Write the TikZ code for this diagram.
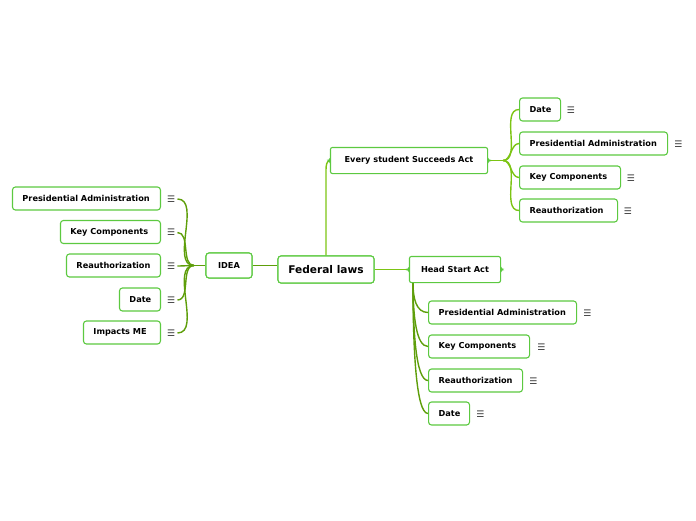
\documentclass[tikz,border=0pt]{standalone}
\usepackage{fontspec}
\setmainfont{DejaVu Sans}
\usetikzlibrary{calc}
\definecolor{boxg}{HTML}{5CC940}
\definecolor{lineg}{HTML}{7CC414}
\definecolor{lined}{HTML}{5E9E0A}
\tikzset{
  box/.style={draw=boxg, line width=1.1pt, rounded corners=3pt, fill=white, minimum height=23pt, inner xsep=10pt, font=\fontsize{8.2}{9.5}\selectfont\bfseries},
  bbox/.style={box, draw=none},
  menuicon/.style={font=\fontsize{9}{10}\selectfont, text=black!80, inner sep=0pt},
  conn/.style={draw=lineg, line width=1.4pt},
  connd/.style={draw=lined, line width=1.4pt},
}
\newcommand{\lb}[2]{\makebox[#1pt][l]{#2}}
\newcommand{\bracebox}[1]{%
  \draw[draw=boxg, line width=1.1pt, rounded corners=2pt]
   (#1.north west) -- (#1.north east) -- ($(#1.east)+(0,2.5)$) -- ($(#1.east)+(2,0)$) -- ($(#1.east)+(0,-2.5)$)
   -- (#1.south east) -- (#1.south west) -- ($(#1.west)+(0,-2.5)$) -- ($(#1.west)+(-2,0)$) -- ($(#1.west)+(0,2.5)$) -- cycle;}
\begin{document}
\begin{tikzpicture}[x=1pt,y=-1pt]
\useasboundingbox (0,0) rectangle (696,520);
% central
\node[box, minimum width=96pt, minimum height=27pt, font=\fontsize{10.6}{12}\selectfont\bfseries] (fl) at (326,269.5) {Federal laws};
% main branches
\node[bbox, minimum width=156pt, minimum height=25pt] (essa) at (409,160.5) {Every student Succeeds Act};
\node[bbox, minimum width=90pt, minimum height=25pt] (hsa) at (455,269.5) {Head Start Act};
\node[box, minimum width=46pt, minimum height=25pt] (idea) at (229,265.5) {IDEA};
% ESSA children
\node[box, anchor=west] (e1) at (519,109.5) {\lb{21}{Date}};
\node[box, anchor=west] (e2) at (519,143.5) {\lb{128}{Presidential Administration}};
\node[box, anchor=west] (e3) at (519,177.5) {\lb{81}{Key Components}};
\node[box, anchor=west] (e4) at (519,210.5) {\lb{78}{Reauthorization}};
% HSA children
\node[box, anchor=west] (h1) at (428,312.5) {\lb{128}{Presidential Administration}};
\node[box, anchor=west] (h2) at (428,346.5) {\lb{81}{Key Components}};
\node[box, anchor=west] (h3) at (428,380.5) {\lb{74}{Reauthorization}};
\node[box, anchor=west] (h4) at (428,413.5) {\lb{21}{Date}};
% IDEA children
\node[box, anchor=east] (i1) at (161,198.5) {\lb{128}{Presidential Administration}};
\node[box, anchor=east] (i2) at (161,232) {\lb{80}{Key Components}};
\node[box, anchor=east] (i3) at (161,265.5) {\lb{74}{Reauthorization}};
\node[box, anchor=east] (i4) at (161,299.5) {\lb{21}{Date}};
\node[box, anchor=east] (i5) at (161,332.5) {\lb{57}{Impacts ME}};
% icons
\foreach \n/\dx in {e1/5.5,e2/6,e3/5.5,e4/5.5,h1/6,h2/7,h3/6,h4/6}{
  \node[menuicon, anchor=west] (\n m) at ($(\n.east)+(\dx,0.5)$) {☰};
}
\foreach \n in {i1,i2,i3,i4,i5}{
  \node[menuicon, anchor=west] (\n m) at ($(\n.east)+(6,0.5)$) {☰};
}
% connectors
\coordinate (je) at (503,160.5);
\coordinate (ji) at (194,265.5);
\coordinate (jh) at (413,283);
\draw[conn] (fl.east) -- (hsa.west);
\draw[connd] (fl.west |- idea.east) -- (idea.east);
\draw[conn] (fl.north) -- (326,170) to[out=90,in=180] (essa.west);
\draw[conn] (essa.east) -- (je);
\foreach \c in {e1,e2,e3,e4}{
  \draw[conn] (je) to[out=0,in=180,looseness=0.9] (\c.west);
}
\draw[connd] (idea.west) -- (ji);
\foreach \c in {i1,i2,i3,i4,i5}{
  \draw[connd] (ji) to[out=180,in=0,looseness=0.9] ($(\c m.east)+(2,0)$);
}
\foreach \c/\yy/\ym in {h1/312.5/298,h2/346.5/315,h3/380.5/332,h4/413.5/348}{
  \draw[connd] (jh) .. controls (413,\ym) and (416,\yy) .. (\c.west);
}
% redraw boxes on top
\node[box, minimum width=96pt, minimum height=27pt, font=\fontsize{10.6}{12}\selectfont\bfseries] at (fl) {Federal laws};
\node[box, minimum width=46pt, minimum height=25pt] at (idea) {IDEA};
\fill[white] (essa.north west) rectangle (essa.south east);
\node[bbox, minimum width=156pt, minimum height=25pt] at (essa) {Every student Succeeds Act};
\fill[white] (hsa.north west) rectangle (hsa.south east);
\node[bbox, minimum width=90pt, minimum height=25pt] at (hsa) {Head Start Act};
\bracebox{essa}
\bracebox{hsa}
\end{tikzpicture}
\end{document}
